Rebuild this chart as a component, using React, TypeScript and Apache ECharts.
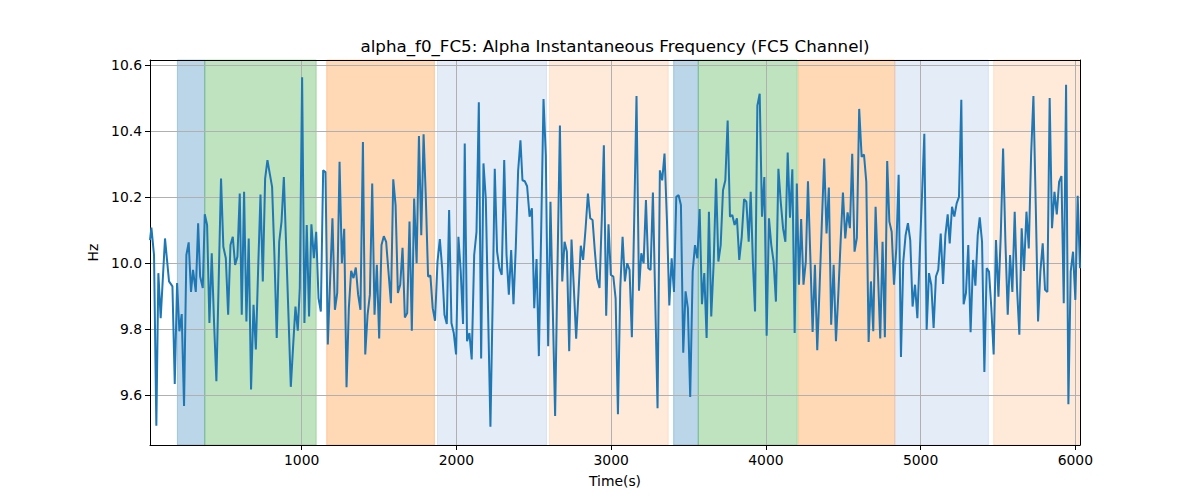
import React, { useEffect, useRef } from "react";
import * as echarts from "echarts";

const TITLE = "alpha_f0_FC5: Alpha Instantaneous Frequency (FC5 Channel)";
const X_NAME = "Time(s)";
const Y_NAME = "Hz";

const times = [
  20, 29, 46, 61, 74, 89, 117, 143, 165, 180, 195, 210, 225, 240, 255, 270, 285, 298, 316, 331,
  344, 361, 374, 389, 404, 419, 434, 449, 464, 479, 494, 510, 525, 540, 555, 570, 585, 600, 613, 628,
  643, 658, 673, 689, 704, 719, 734, 749, 764, 779, 794, 809, 824, 839, 855, 870, 885, 900, 915, 930,
  945, 960, 975, 988, 1003, 1018, 1033, 1048, 1063, 1079, 1094, 1109, 1124, 1139, 1154, 1169, 1184, 1199, 1215, 1230,
  1245, 1260, 1275, 1290, 1305, 1320, 1335, 1350, 1365, 1380, 1396, 1411, 1426, 1441, 1456, 1471, 1486, 1501, 1516, 1531,
  1546, 1561, 1577, 1592, 1607, 1622, 1637, 1652, 1667, 1682, 1697, 1712, 1727, 1743, 1758, 1773, 1788, 1802, 1817, 1832,
  1847, 1862, 1878, 1893, 1908, 1923, 1938, 1953, 1968, 1983, 1998, 2013, 2028, 2043, 2054, 2069, 2084, 2099, 2115, 2130,
  2145, 2160, 2175, 2190, 2205, 2220, 2235, 2248, 2263, 2278, 2293, 2309, 2324, 2339, 2354, 2369, 2384, 2399, 2414, 2427,
  2442, 2457, 2473, 2488, 2503, 2518, 2533, 2548, 2563, 2578, 2593, 2608, 2623, 2638, 2653, 2669, 2684, 2699, 2714, 2729,
  2744, 2759, 2774, 2789, 2804, 2819, 2835, 2850, 2865, 2880, 2895, 2910, 2925, 2940, 2953, 2968, 2983, 2998, 3014, 3029,
  3044, 3059, 3074, 3089, 3104, 3119, 3134, 3149, 3164, 3180, 3195, 3210, 3225, 3240, 3255, 3270, 3285, 3300, 3315, 3330,
  3345, 3361, 3376, 3391, 3406, 3421, 3436, 3451, 3466, 3481, 3496, 3511, 3527, 3542, 3557, 3572, 3587, 3602, 3617, 3632,
  3647, 3663, 3678, 3693, 3708, 3723, 3738, 3753, 3768, 3783, 3798, 3813, 3828, 3844, 3859, 3874, 3889, 3902, 3916, 3930,
  3945, 3960, 3975, 3990, 4005, 4020, 4035, 4050, 4065, 4081, 4096, 4111, 4126, 4141, 4156, 4171, 4186, 4200, 4214, 4228,
  4243, 4258, 4272, 4287, 4302, 4317, 4332, 4347, 4362, 4377, 4392, 4407, 4422, 4438, 4453, 4468, 4483, 4498, 4513, 4528,
  4543, 4558, 4573, 4588, 4603, 4619, 4634, 4649, 4664, 4679, 4694, 4709, 4724, 4739, 4754, 4769, 4784, 4798, 4813, 4828,
  4843, 4858, 4873, 4888, 4903, 4918, 4933, 4948, 4964, 4979, 4994, 5009, 5024, 5039, 5054, 5069, 5084, 5099, 5114, 5130,
  5145, 5160, 5175, 5188, 5203, 5218, 5233, 5248, 5263, 5278, 5293, 5308, 5323, 5339, 5354, 5369, 5382, 5397, 5412, 5427,
  5442, 5457, 5472, 5487, 5503, 5518, 5533, 5548, 5563, 5578, 5593, 5608, 5623, 5638, 5653, 5668, 5684, 5699, 5714, 5729,
  5744, 5759, 5774, 5789, 5804, 5819, 5834, 5849, 5865, 5880, 5895, 5910, 5925, 5940, 5955, 5970, 5985, 6000, 6015, 6030,
];

const hz = [
  10.07, 10.108, 10.025, 9.508, 9.97, 9.834, 10.075, 9.945, 9.93, 9.635, 9.94, 9.794, 9.846, 9.568, 10.025, 10.063, 9.913, 9.98, 9.913, 10.121,
  9.96, 9.925, 10.148, 10.116, 9.819, 10.03, 9.82, 9.643, 9.95, 10.256, 10.05, 10.015, 9.844, 10.055, 10.08, 9.995, 10.02, 10.211, 9.844, 10.216,
  9.824, 10.075, 9.618, 9.874, 9.739, 9.985, 10.208, 9.945, 10.256, 10.312, 10.271, 10.231, 10.025, 9.774, 10.065, 10.126, 10.261, 10.05, 9.84, 9.626,
  9.75, 9.869, 9.796, 9.925, 10.563, 9.819, 10.116, 9.839, 10.118, 10.015, 10.095, 9.894, 9.854, 10.281, 10.276, 9.754, 9.95, 10.136, 9.859, 9.91,
  10.307, 10.0, 10.104, 9.625, 9.864, 9.977, 9.955, 9.987, 9.905, 9.859, 10.367, 9.724, 9.844, 9.905, 10.241, 9.844, 9.995, 9.772, 10.055, 10.082,
  10.065, 9.975, 9.879, 10.254, 10.176, 9.91, 9.935, 10.047, 9.836, 9.849, 10.126, 9.796, 10.196, 10.0, 10.385, 10.085, 10.39, 10.206, 9.96, 9.963,
  9.864, 9.826, 10.005, 10.073, 9.985, 9.844, 9.816, 10.161, 9.819, 9.789, 9.724, 10.08, 9.975, 9.816, 10.362, 9.764, 9.789, 9.709, 10.025, 10.095,
  10.487, 9.712, 10.302, 10.196, 9.849, 9.505, 9.9, 10.286, 10.035, 9.985, 9.965, 10.312, 10.025, 9.905, 10.04, 9.876, 10.05, 10.28, 10.372, 10.251,
  10.248, 10.233, 10.141, 10.166, 9.864, 10.013, 9.719, 10.1, 10.497, 10.327, 9.749, 10.186, 9.86, 9.538, 9.98, 10.417, 9.945, 10.065, 10.035, 9.734,
  10.072, 9.925, 9.772, 9.91, 10.053, 10.01, 10.106, 10.211, 10.136, 10.131, 10.035, 9.953, 9.925, 10.14, 10.357, 9.841, 10.118, 9.965, 9.96, 9.894,
  9.543, 9.925, 10.08, 9.945, 10.0, 9.98, 9.776, 10.13, 10.506, 9.917, 10.03, 10.0, 10.191, 9.985, 9.98, 10.214, 9.89, 9.561, 10.281, 10.251,
  10.332, 10.126, 9.872, 10.015, 9.913, 10.201, 10.206, 10.176, 9.729, 9.915, 9.864, 9.595, 9.975, 10.055, 10.015, 10.164, 9.876, 9.97, 9.774, 10.156,
  9.839, 10.005, 10.256, 10.005, 10.055, 10.221, 10.251, 10.432, 10.141, 10.146, 10.116, 10.136, 10.01, 10.08, 10.194, 10.186, 10.065, 10.216, 10.005, 9.854,
  10.477, 10.513, 10.141, 10.261, 9.781, 10.136, 10.055, 10.005, 9.884, 10.286, 10.186, 10.106, 10.065, 10.335, 10.138, 10.284, 9.789, 10.241, 9.935, 10.134,
  9.935, 10.005, 10.248, 10.025, 9.792, 9.995, 9.737, 9.925, 10.126, 10.317, 10.09, 10.229, 9.814, 9.995, 9.764, 9.905, 10.065, 10.214, 10.075, 10.154,
  10.106, 10.331, 10.035, 10.077, 10.467, 10.322, 10.329, 10.246, 9.762, 9.945, 9.794, 10.171, 9.975, 9.772, 10.065, 9.776, 10.309, 10.126, 10.095, 9.935,
  10.045, 10.268, 9.716, 10.005, 10.085, 10.121, 10.07, 9.869, 9.935, 9.834, 10.025, 10.206, 10.392, 9.799, 9.97, 9.935, 9.804, 9.96, 9.98, 10.09,
  9.937, 10.085, 10.148, 10.06, 10.171, 10.141, 10.181, 10.201, 10.495, 9.876, 9.91, 10.055, 9.791, 10.01, 9.932, 10.085, 10.139, 10.065, 9.671, 9.985,
  9.975, 9.864, 9.724, 10.07, 9.899, 10.085, 10.347, 10.065, 9.844, 10.025, 9.913, 10.156, 9.925, 9.784, 10.106, 9.977, 10.156, 10.045, 10.327, 10.506,
  10.176, 9.824, 9.975, 10.06, 9.92, 9.913, 10.5, 10.106, 10.216, 10.148, 10.246, 10.264, 9.879, 10.54, 9.573, 9.975, 10.035, 9.889, 10.204, 9.985,
];

const spanStart = [197, 374, 1162, 1878, 2602, 3404, 3563, 4211, 4836, 5472];
const spanEnd = [374, 1094, 1858, 2582, 3369, 3563, 4203, 4832, 5438, 6025];
const spanKind = ["blue", "green", "orange", "lightblue", "lightorange", "blue", "green", "orange", "lightblue", "lightorange"];

const xTicks = [1000, 2000, 3000, 4000, 5000, 6000];
const yTicks = [9.6, 9.8, 10.0, 10.2, 10.4, 10.6];

const kindFill: Record<string, string> = {
  blue: "rgba(31,119,180,0.3)",
  green: "rgba(44,160,44,0.3)",
  orange: "rgba(255,127,14,0.3)",
  lightblue: "rgba(120,160,220,0.2)",
  lightorange: "rgba(253,160,80,0.22)",
};

export default function App() {
  const ref = useRef<HTMLDivElement>(null);
  useEffect(() => {
    if (!ref.current) return;
    const chart = echarts.init(ref.current, null, { renderer: "svg" });
    const font = '"DejaVu Sans", sans-serif';
    const xMin = times[0];
    const xMax = times[times.length - 1];
    const yMin = 9.45;
    const yMax = 10.615;
    const spans = spanStart.map((s, i) => [
      {
        xAxis: s,
        itemStyle: { color: kindFill[spanKind[i]], borderColor: kindFill[spanKind[i]], borderWidth: 1 },
      },
      { xAxis: spanEnd[i] },
    ]);
    const baseLine = { show: true, onZero: false, lineStyle: { color: "#000", width: 1 } };
    chart.setOption({
      animation: false,
      backgroundColor: "#fff",
      grid: { left: 150, top: 60, width: 930, height: 385, show: false },
      xAxis: [
        {
          type: "value",
          min: xMin,
          max: xMax,
          z: 2,
          axisLine: baseLine,
          axisTick: { show: true, customValues: xTicks, length: 5, lineStyle: { color: "#000", width: 1 } },
          axisLabel: {
            customValues: xTicks,
            color: "#000",
            fontSize: 13.9,
            fontFamily: font,
            margin: 8,
            formatter: (v: number) => String(Math.round(v)),
          },
          splitLine: { show: true, lineStyle: { color: "#b0b0b0", width: 1 } },
          name: X_NAME,
          nameLocation: "middle",
          nameGap: 29,
          nameTextStyle: { color: "#000", fontSize: 13.9, fontFamily: font },
        },
        {
          type: "value",
          position: "top",
          min: xMin,
          max: xMax,
          z: 2,
          axisLine: baseLine,
          axisTick: { show: false },
          axisLabel: { show: false },
          splitLine: { show: false },
        },
      ],
      yAxis: [
        {
          type: "value",
          min: yMin,
          max: yMax,
          z: 2,
          axisLine: baseLine,
          axisTick: { show: true, customValues: yTicks, length: 5, lineStyle: { color: "#000", width: 1 } },
          axisLabel: {
            customValues: yTicks,
            color: "#000",
            fontSize: 13.9,
            fontFamily: font,
            margin: 8,
            formatter: (v: number) => v.toFixed(1),
          },
          splitLine: { show: true, lineStyle: { color: "#b0b0b0", width: 1 } },
          name: Y_NAME,
          nameLocation: "middle",
          nameGap: 46,
          nameTextStyle: { color: "#000", fontSize: 13.9, fontFamily: font },
        },
        {
          type: "value",
          position: "right",
          min: yMin,
          max: yMax,
          z: 2,
          axisLine: baseLine,
          axisTick: { show: false },
          axisLabel: { show: false },
          splitLine: { show: false },
        },
      ],
      series: [
        {
          type: "line",
          xAxisIndex: 0,
          yAxisIndex: 0,
          data: times.map((t, i) => [t, hz[i]]),
          showSymbol: false,
          symbol: "none",
          z: 3,
          lineStyle: { color: "#1f77b4", width: 2 },
          markArea: { silent: true, z: 1, data: spans },
        },
      ],
      graphic: [
        {
          type: "text",
          x: 615,
          y: 46,
          style: {
            text: TITLE,
            fontSize: 16.7,
            fontFamily: font,
            fill: "#000",
            align: "center",
            verticalAlign: "middle",
          },
        },
      ],
    });
    return () => chart.dispose();
  }, []);
  return <div ref={ref} style={{ position: "fixed", left: 0, top: 0, width: 1200, height: 500 }} />;
}
